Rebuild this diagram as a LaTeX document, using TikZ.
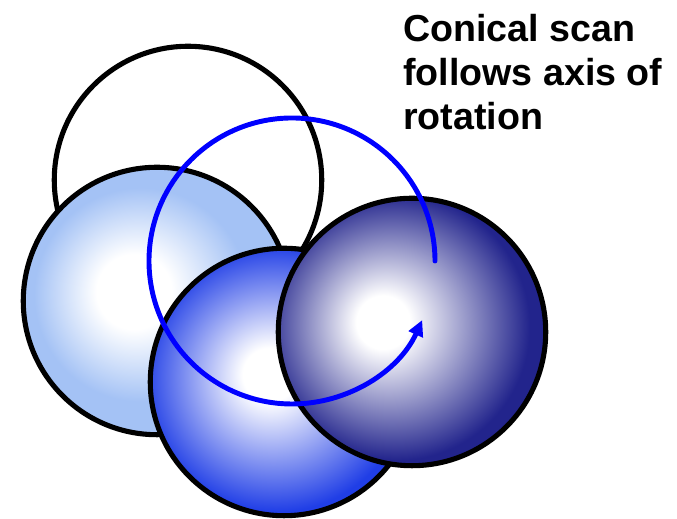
\documentclass[tikz,border=0pt]{standalone}
\usepackage{fontspec}
\setmainfont{Liberation Sans}
\usetikzlibrary{shapes,arrows.meta,positioning}
\definecolor{paleblue}{RGB}{164,194,245}
\definecolor{brightblue}{RGB}{32,62,230}
\definecolor{deepnavy}{RGB}{34,36,140}
\definecolor{scanblue}{RGB}{0,0,255}

\pgfdeclareradialshading{paleball}{\pgfpoint{-5bp}{2bp}}{color(0bp)=(white); color(7bp)=(white); color(20bp)=(paleblue); color(50bp)=(paleblue)}
\pgfdeclareradialshading{blueball}{\pgfpoint{-3bp}{1.5bp}}{color(0bp)=(white); color(5bp)=(white); color(25bp)=(brightblue); color(50bp)=(brightblue)}
\pgfdeclareradialshading{navyball}{\pgfpoint{-6bp}{2bp}}{color(0bp)=(white); color(5bp)=(white); color(25bp)=(deepnavy); color(50bp)=(deepnavy)}

\begin{document}
\begin{tikzpicture}[x=0.02cm, y=0.02cm,
    beam/.style={circle, draw=black, line width=2.9pt, minimum size=5.35cm, inner sep=0pt}]
    \useasboundingbox (0,0) rectangle (677,519);
    % Beam positions
    \node[beam, fill=white] (topbeam) at (188,339) {};
    \node[beam, shading=paleball] (leftbeam) at (157,218) {};
    \node[beam, shading=blueball] (lowbeam) at (284,137) {};
    \node[beam, shading=navyball] (rightbeam) at (412,187) {};

    % Scan path
    \coordinate (axis) at (292,258);
    \draw[scanblue, line width=2.8pt, line cap=round, -{Triangle[length=9pt,width=8.5pt]}] ([shift={(0:143)}]axis) arc[start angle=0, end angle=335.6, radius=143];

    % Caption
    \node[anchor=north west, inner sep=0pt, align=left, font=\fontsize{21.4}{25}\selectfont\bfseries] (caption) at (403,505) {Conical scan\\ follows axis of\\ rotation};
\end{tikzpicture}
\end{document}
